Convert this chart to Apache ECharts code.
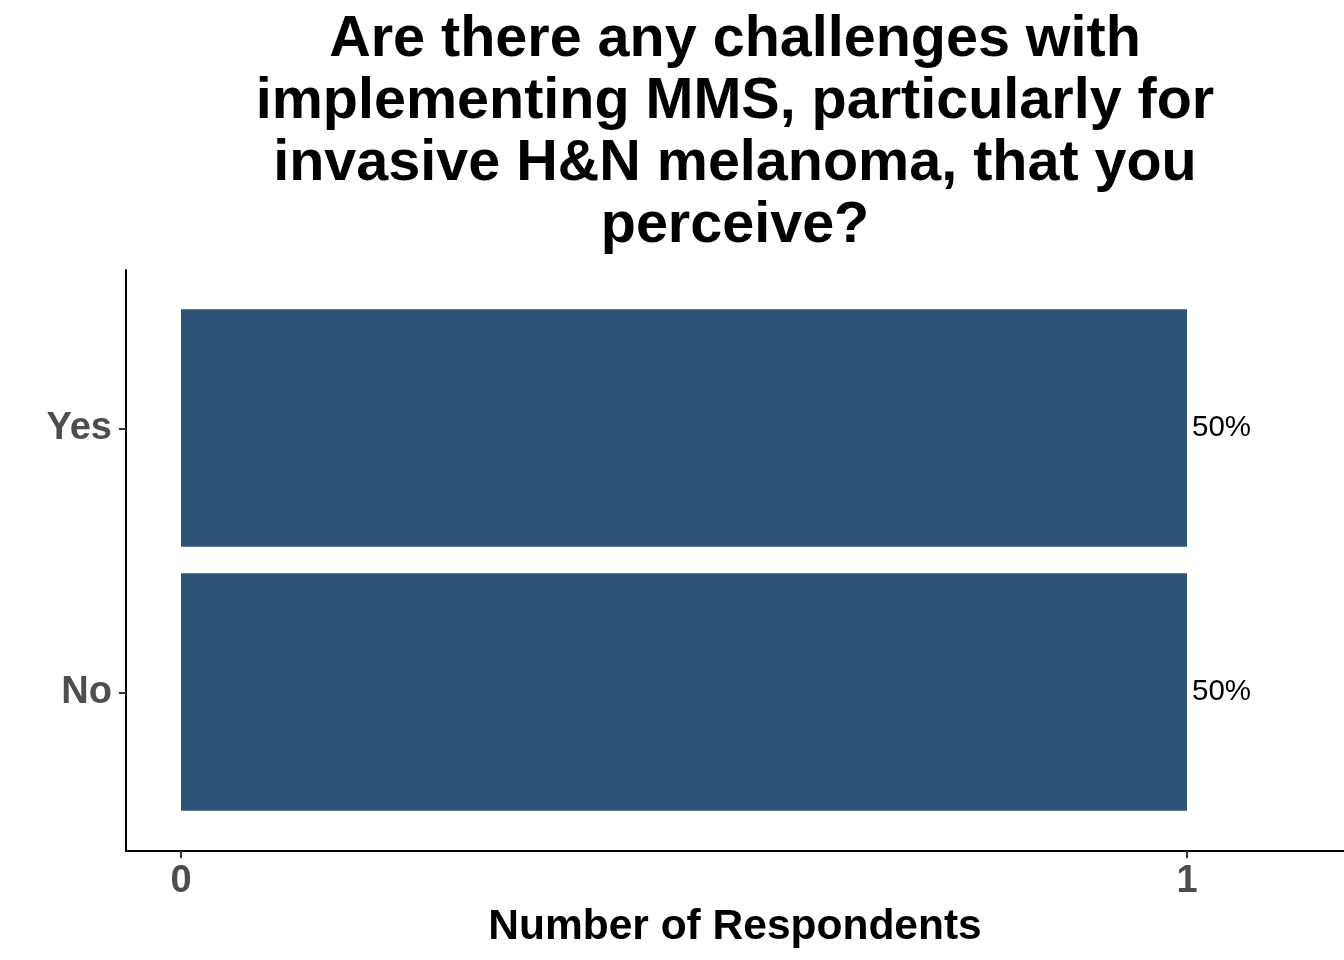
<!DOCTYPE html>
<html>
<head>
<meta charset="utf-8">
<script src="https://cdn.jsdelivr.net/npm/echarts@6/dist/echarts.min.js"></script>
<style>
html,body{margin:0;padding:0;background:#fff;}
#chart{width:1344px;height:960px;}
</style>
</head>
<body>
<div id="chart"></div>
<script>
const titleText = 'Are there any challenges with\nimplementing MMS, particularly for\ninvasive H&N melanoma, that you\nperceive?';
const categories = ['No', 'Yes'];
const counts = [1, 1];
const percentLabels = ['50%', '50%'];
const xTicks = [0, 1];
const xAxisName = 'Number of Respondents';

const FONT = '"Liberation Sans", Arial, Helvetica, sans-serif';
const xMin = -0.05467, xMax = 1.15606;
const barColor = '#2C5278';
const labelGray = '#4D4D4D';

const chart = echarts.init(document.getElementById('chart'), null, {renderer: 'canvas'});
chart.setOption({
  backgroundColor: '#fff',
  animation: false,
  textStyle: {fontFamily: FONT},
  title: {
    text: titleText,
    left: 735,
    textAlign: 'center',
    top: 9,
    padding: 0,
    textStyle: {fontFamily: FONT, fontWeight: 'bold', fontSize: 57.5, lineHeight: 62, color: '#000'}
  },
  grid: [
    {left: 126, right: 0, top: 270, bottom: 109, containLabel: false},
    {left: 126, right: 0, top: 296, bottom: 136, containLabel: false}
  ],
  xAxis: [
    {
      gridIndex: 0, type: 'value', min: xMin, max: xMax,
      name: xAxisName, nameLocation: 'middle', nameGap: 49,
      nameTextStyle: {fontFamily: FONT, fontWeight: 'bold', fontSize: 42.5, color: '#000'},
      axisLine: {show: true, onZero: false, lineStyle: {color: '#000', width: 2}},
      axisTick: {show: true, length: 7, lineStyle: {color: '#333', width: 2}, customValues: xTicks},
      axisLabel: {customValues: xTicks, margin: 12, fontFamily: FONT, fontWeight: 'bold', fontSize: 38, color: labelGray},
      splitLine: {show: false}
    },
    {
      gridIndex: 1, type: 'value', min: xMin, max: xMax, show: false,
      splitLine: {show: false}
    }
  ],
  yAxis: [
    {
      gridIndex: 0, type: 'value', min: 0.4, max: 2.6,
      axisLine: {show: true, onZero: false, lineStyle: {color: '#000', width: 2}},
      axisTick: {show: true, length: 7, lineStyle: {color: '#333', width: 2}, customValues: [1, 2]},
      axisLabel: {customValues: [1, 2], margin: 14, fontFamily: FONT, fontWeight: 'bold', fontSize: 38, color: labelGray,
        formatter: v => categories[Math.round(v) - 1]},
      splitLine: {show: false}
    },
    {
      gridIndex: 1, type: 'category', data: categories, show: false
    }
  ],
  series: [{
    type: 'bar',
    xAxisIndex: 1, yAxisIndex: 1,
    data: counts,
    barCategoryGap: '10%',
    itemStyle: {color: barColor},
    label: {
      show: true, position: 'right', distance: 5,
      formatter: p => percentLabels[p.dataIndex],
      fontFamily: FONT, fontSize: 29.5, color: '#000'
    }
  }]
});
</script>
</body>
</html>
